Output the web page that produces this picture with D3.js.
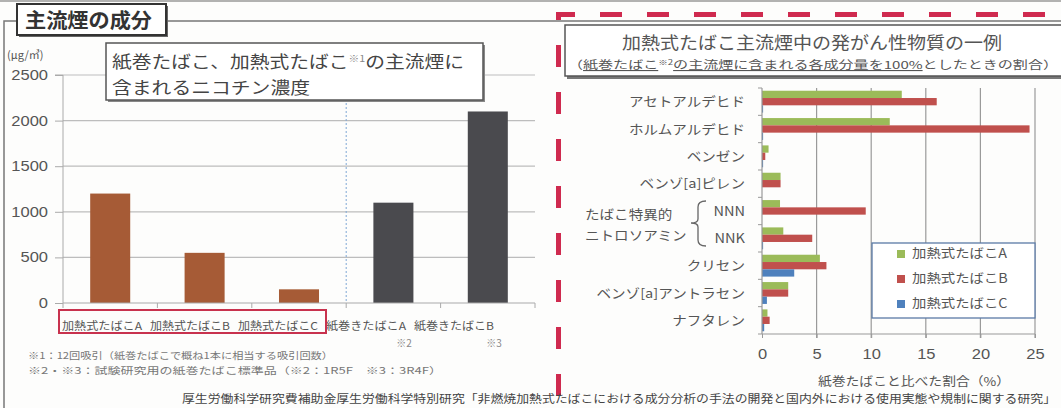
<!DOCTYPE html>
<html><head><meta charset="utf-8">
<script src="https://cdn.jsdelivr.net/npm/d3@7"></script>
<style>
body{margin:0;background:#fdfdfc;}
svg{display:block;font-family:"Noto Sans CJK JP","Noto Sans",sans-serif;}
</style></head><body>
<svg id="c" width="1061" height="408"></svg>
<script>
// ---- data ----
const nicotineCategories = ["加熱式たばこA","加熱式たばこB","加熱式たばこC","紙巻きたばこA","紙巻きたばこB"];
const nicotineValues = [1200, 550, 150, 1100, 2100];
const nicotineTicks = [0, 500, 1000, 1500, 2000, 2500];
const carcinogenCategories = ["アセトアルデヒド","ホルムアルデヒド","ベンゼン","ベンゾ[a]ピレン","NNN","NNK","クリセン","ベンゾ[a]アントラセン","ナフタレン"];
const seriesNames = ["加熱式たばこA","加熱式たばこB","加熱式たばこC"];
const seriesA = [12.8, 11.7, 0.6, 1.7, 1.65, 1.95, 5.3, 2.4, 0.5];
const seriesB = [16.0, 24.5, 0.3, 1.7, 9.5, 4.6, 5.9, 2.4, 0.7];
const seriesC = [0.1, 0.1, 0.1, 0.0, 0.0, 0.1, 2.95, 0.45, 0.2];
const percentTicks = [0, 5, 10, 15, 20, 25];

const svg = d3.select("#c");
function stretch(sel, f){
  sel.each(function(){
    const l = this.getComputedTextLength();
    if(l>0){ this.setAttribute("textLength", l*f); this.setAttribute("lengthAdjust","spacingAndGlyphs"); }
  });
}
const TXT = "#555";

// ---- outer frame ----
svg.append("line").attr("x1",0).attr("x2",1061).attr("y1",1).attr("y2",1).attr("stroke","#999").attr("stroke-width",1.5);
svg.append("path").attr("d","M4,408 V21 H17 M166,21 H1061").attr("fill","none").attr("stroke","#777").attr("stroke-width",1.5);

// ---- left chart ----
const L = {left:63, right:535, top:75, bottom:303};
const x = d3.scaleBand().domain(nicotineCategories).range([L.left,L.right]).paddingInner(0.576).paddingOuter(0.288);
const xLab = d3.scaleBand().domain(nicotineCategories).range([58,498]);
const y = d3.scaleLinear().domain([0,2500]).range([L.bottom,L.top]);

svg.selectAll("line.grid").data(nicotineTicks.slice(1)).join("line")
  .attr("x1",L.left).attr("x2",L.right).attr("y1",d=>y(d)).attr("y2",d=>y(d))
  .attr("stroke","#bdbdbd").attr("stroke-width",1.2);
const sepX = (x("加熱式たばこC")+x.bandwidth()+x("紙巻きたばこA"))/2;
svg.append("line").attr("x1",sepX).attr("x2",sepX)
  .attr("y1",L.top).attr("y2",L.bottom).attr("stroke","#7fa7d6").attr("stroke-width",1).attr("stroke-dasharray","2,2");

const yAxis = d3.axisLeft(y).tickValues(nicotineTicks).tickFormat(d3.format("d")).tickSize(8).tickPadding(7);
const ya = svg.append("g").attr("transform",`translate(${L.left},0)`).call(yAxis);
ya.select(".domain").attr("stroke","#aaa").attr("d",`M-8,${L.top}H0V${L.bottom}`);
ya.selectAll(".tick line").attr("stroke","#aaa");
ya.selectAll(".tick text").attr("fill",TXT).attr("font-size",14).attr("font-family","Liberation Sans, Arial, sans-serif");
stretch(ya.selectAll(".tick text"),1.18);

svg.selectAll("rect.nic").data(nicotineValues).join("rect")
  .attr("x",(d,i)=>x(nicotineCategories[i])).attr("width",x.bandwidth())
  .attr("y",d=>y(d)).attr("height",d=>y(0)-y(d))
  .attr("fill",(d,i)=>i<3?"#a65b36":"#4a4a4e");

// x axis
svg.append("line").attr("x1",L.left).attr("x2",L.right).attr("y1",L.bottom).attr("y2",L.bottom).attr("stroke","#aaa").attr("stroke-width",1.2);
svg.selectAll("line.xt").data(d3.range(nicotineCategories.length+1)).join("line")
  .attr("x1",i=>L.left+i*x.step()).attr("x2",i=>L.left+i*x.step())
  .attr("y1",L.bottom).attr("y2",L.bottom+5).attr("stroke","#aaa");
svg.selectAll("text.xl").data(nicotineCategories).join("text")
  .attr("x",d=>xLab(d)+xLab.bandwidth()/2).attr("y",330).attr("text-anchor","middle")
  .attr("font-size",11).attr("fill",TXT).text(d=>d)
  .attr("textLength",80).attr("lengthAdjust","spacingAndGlyphs");
svg.append("rect").attr("x",59).attr("y",310).attr("width",267).attr("height",23)
  .attr("fill","none").attr("stroke","#c8324e").attr("stroke-width",2);
svg.append("text").attr("x",xLab("紙巻きたばこA")+xLab.bandwidth()/2+38).attr("y",347).attr("text-anchor","middle").attr("font-size",10).attr("fill","#888").text("※2");
svg.append("text").attr("x",xLab("紙巻きたばこB")+xLab.bandwidth()/2+40).attr("y",347).attr("text-anchor","middle").attr("font-size",10).attr("fill","#888").text("※3");

// unit
svg.append("text").attr("x",7).attr("y",59).attr("font-size",11).attr("fill",TXT).text("(μg/㎥)");

// left title box
svg.append("rect").attr("x",108).attr("y",45).attr("width",377).attr("height",57).attr("fill","#888");
svg.append("rect").attr("x",106).attr("y",43).attr("width",377).attr("height",57).attr("fill","#fff").attr("stroke","#555").attr("stroke-width",1.5);
const t1 = svg.append("text").attr("x",112).attr("y",68).attr("font-size",16.5).attr("fill","#444");
t1.append("tspan").text("紙巻たばこ、加熱式たばこ");
t1.append("tspan").attr("font-size",9).attr("dy",-6).attr("fill","#888").text("※1");
t1.append("tspan").attr("dy",6).text("の主流煙に");
t1.attr("textLength",352).attr("lengthAdjust","spacingAndGlyphs");
const t2 = svg.append("text").attr("x",112).attr("y",94).attr("font-size",16.5).attr("fill","#444").text("含まれるニコチン濃度");
stretch(t2,1.2);

// top-left label
svg.append("rect").attr("x",19).attr("y",6).attr("width",149).attr("height",31).attr("fill","#666");
svg.append("rect").attr("x",17).attr("y",4).attr("width",149).attr("height",31).attr("fill","#fff").attr("stroke","#333").attr("stroke-width",2);
svg.append("text").attr("x",25).attr("y",28).attr("font-size",20).attr("font-weight","bold").attr("fill","#333")
  .text("主流煙の成分").attr("textLength",127).attr("lengthAdjust","spacingAndGlyphs");

// footnotes
svg.append("text").attr("x",28).attr("y",359).attr("font-size",9.5).attr("fill","#777")
  .text("※1：12回吸引（紙巻たばこで概ね1本に相当する吸引回数）").attr("textLength",305).attr("lengthAdjust","spacingAndGlyphs");
svg.append("text").attr("x",28).attr("y",374).attr("font-size",9.5).attr("fill","#777")
  .text("※2・※3：試験研究用の紙巻たばこ標準品（※2：1R5F　※3：3R4F）").attr("textLength",414).attr("lengthAdjust","spacingAndGlyphs");

// ---- right chart ----
const R = {left:762, right:1035, top:88, bottom:334};
const xr = d3.scaleLinear().domain([0,25]).range([R.left,R.right]);
const yb = d3.scaleBand().domain(carcinogenCategories).range([R.top,R.bottom]).paddingInner(0.2).paddingOuter(0.1);
const ys = d3.scaleBand().domain(seriesNames).range([0,yb.bandwidth()]);
const colors = d3.scaleOrdinal().domain(seriesNames).range(["#9bbb59","#c0504d","#4f81bd"]);
const seriesData = [seriesA, seriesB, seriesC];

svg.selectAll("line.rgrid").data(percentTicks.slice(1)).join("line")
  .attr("x1",d=>xr(d)).attr("x2",d=>xr(d)).attr("y1",R.top).attr("y2",R.bottom+4)
  .attr("stroke","#9a9a9a").attr("stroke-width",1.2);

seriesNames.forEach((s,si)=>{
  svg.selectAll("rect.s"+si).data(seriesData[si]).join("rect")
    .attr("x",xr(0)).attr("y",(d,i)=>yb(carcinogenCategories[i])+ys(s))
    .attr("width",d=>xr(d)-xr(0)).attr("height",ys.bandwidth())
    .attr("fill",colors(s));
});

const xaxR = d3.axisBottom(xr).tickValues(percentTicks).tickSize(4).tickPadding(10);
const xra = svg.append("g").attr("transform",`translate(0,${R.bottom})`).call(xaxR);
xra.select(".domain").attr("stroke","#999").attr("d",`M${R.left},0H${R.right}`);
xra.selectAll(".tick line").attr("stroke","#999");
xra.selectAll(".tick text").attr("fill",TXT).attr("font-size",15).attr("font-family","Liberation Sans, Arial, sans-serif");
stretch(xra.selectAll(".tick text"),1.1);
svg.append("line").attr("x1",R.left).attr("x2",R.left).attr("y1",R.top).attr("y2",R.bottom).attr("stroke","#999").attr("stroke-width",1.2);
const rowH = (R.bottom-R.top)/carcinogenCategories.length;
svg.selectAll("line.yt").data(d3.range(carcinogenCategories.length+1)).join("line")
  .attr("x1",R.left-4).attr("x2",R.left)
  .attr("y1",i=>R.top+i*rowH).attr("y2",i=>R.top+i*rowH)
  .attr("stroke","#999");

const cl = svg.selectAll("text.cat").data(carcinogenCategories).join("text")
  .attr("x",745).attr("y",d=>yb(d)+yb.bandwidth()/2).attr("dy","0.35em")
  .attr("text-anchor","end").attr("font-size",13).attr("fill",TXT).text(d=>d);
stretch(cl,1.12);
svg.append("path").attr("d","M706,201 Q698,201 698,207 V219 Q698,223 691,223 Q698,223 698,227 V240 Q698,246 706,246")
  .attr("fill","none").attr("stroke","#666").attr("stroke-width",1.3);
const g1 = svg.append("text").attr("x",585).attr("y",219).attr("font-size",13).attr("fill",TXT).text("たばこ特異的");
const g2 = svg.append("text").attr("x",585).attr("y",240).attr("font-size",13).attr("fill",TXT).text("ニトロソアミン");
stretch(g1,1.12); stretch(g2,1.12);

const at = svg.append("text").attr("x",914).attr("y",386).attr("text-anchor","middle").attr("font-size",12).attr("fill",TXT).text("紙巻たばこと比べた割合（%）");
stretch(at,1.15);

// legend
const lg = svg.append("g");
lg.append("rect").attr("x",872).attr("y",243).attr("width",163).attr("height",75).attr("fill","#fff").attr("stroke","#5b7aa6").attr("stroke-width",1.3);
seriesNames.forEach((s,i)=>{
  const cy = 254 + i*25;
  lg.append("rect").attr("x",897).attr("y",cy-4).attr("width",8).attr("height",8).attr("fill",colors(s));
  const t = lg.append("text").attr("x",912).attr("y",cy).attr("dy","0.35em").attr("font-size",12.5).attr("fill",TXT).text(s);
  stretch(t,1.15);
});

// right title box
svg.append("rect").attr("x",567).attr("y",27).attr("width",500).attr("height",52).attr("fill","#777");
svg.append("rect").attr("x",565).attr("y",25).attr("width",500).attr("height",51).attr("fill","#fff").attr("stroke","#555").attr("stroke-width",1.5);
svg.append("text").attr("x",812).attr("y",49).attr("text-anchor","middle").attr("font-size",17.5).attr("fill","#555")
  .text("加熱式たばこ主流煙中の発がん性物質の一例").attr("textLength",380).attr("lengthAdjust","spacingAndGlyphs");
const st = svg.append("text").attr("x",568).attr("y",69).attr("font-size",11).attr("fill","#555");
st.append("tspan").text("（");
st.append("tspan").attr("text-decoration","underline").text("紙巻たばこ");
st.append("tspan").attr("font-size",7).attr("dy",-4).text("※2");
st.append("tspan").attr("dy",4).attr("text-decoration","underline").text("の主流煙に含まれる各成分量を100%");
st.append("tspan").text("としたときの割合）");
st.attr("textLength",490).attr("lengthAdjust","spacingAndGlyphs");

// red dashed frame
svg.append("path").attr("d","M558.5,408 V14.5 H1061").attr("fill","none")
  .attr("stroke","#cf2a4f").attr("stroke-width",5).attr("stroke-dasharray","22,25").attr("stroke-dashoffset",-12);

// source
svg.append("text").attr("x",182).attr("y",403).attr("font-size",11.5).attr("fill","#444")
  .text("厚生労働科学研究費補助金厚生労働科学特別研究「非燃焼加熱式たばこにおける成分分析の手法の開発と国内外における使用実態や規制に関する研究」")
  .attr("textLength",874).attr("lengthAdjust","spacingAndGlyphs");
</script>
</body></html>
